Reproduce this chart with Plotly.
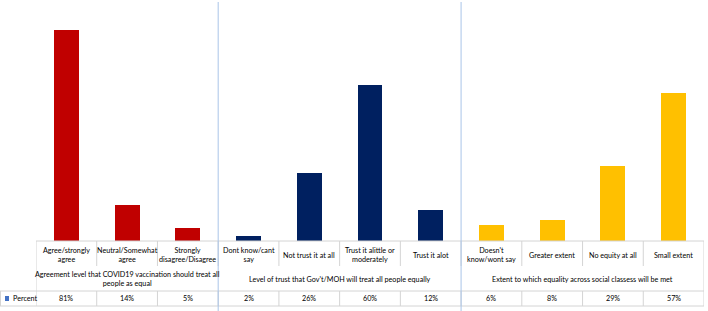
import plotly.graph_objects as go

categories = ["Agree/strongly<br>agree", "Neutral/Somewhat<br>agree", "Strongly<br>disagree/Disagree",
              "Dont know/cant<br>say", "Not trust it at all", "Trust it alittle or<br>moderately", "Trust it alot",
              "Doesn't<br>know/wont say", "Greater extent", "No equity at all", "Small extent"]
values = [81, 14, 5, 2, 26, 60, 12, 6, 8, 29, 57]
group_labels = ["Agreement level that COVID19 vaccination should treat all<br>people as equal",
                "Level of trust that Gov't/MOH will treat all people equally",
                "Extent to which equality across social classess will be met"]
group_sizes = [3, 4, 4]
group_colors = ["#C00000", "#002060", "#FFC000"]
series_name = "Percent"

W, H = 708, 311
ml, mr, mt, mb = 36, 4, 7, 70
ph = H - mt - mb
pw = W - ml - mr

def py(px_y):
    return (H - mb - px_y) / ph

def px(px_x):
    return (px_x - ml) / pw

colors = []
for c, n in zip(group_colors, group_sizes):
    colors += [c] * n
xs = list(range(len(values)))

fig = go.Figure()
fig.add_trace(go.Bar(x=xs, y=values, marker=dict(color=colors, line=dict(width=0)),
                     width=0.41, name=series_name, showlegend=False))

font = dict(family="Lato", size=7.2, color="#000000")
grid = "#d4d4d4"
sep = "#a9c4e8"
shapes = []
ann = []

n = len(values)
# top line of table
shapes.append(dict(type="line", xref="x", yref="paper", x0=-0.5, x1=n - 0.5, y0=0, y1=0,
                   line=dict(color=grid, width=1)))
# line under group labels and bottom line
for yy in (291, 306):
    shapes.append(dict(type="line", xref="paper", yref="paper", x0=px(0), x1=1, y0=py(yy), y1=py(yy),
                       line=dict(color=grid, width=1)))
# vertical lines: category row and percent row
for i in range(n + 1):
    shapes.append(dict(type="line", xref="x", yref="paper", x0=i - 0.5, x1=i - 0.5, y0=0, y1=py(266),
                       line=dict(color=grid, width=1)))
    shapes.append(dict(type="line", xref="x", yref="paper", x0=i - 0.5, x1=i - 0.5, y0=py(291), y1=py(306),
                       line=dict(color=grid, width=1)))
# outer left/right edges of group row
for xe in (-0.5, n - 0.5):
    shapes.append(dict(type="line", xref="x", yref="paper", x0=xe, x1=xe, y0=py(266), y1=py(291),
                       line=dict(color=grid, width=1)))
shapes.append(dict(type="line", xref="paper", yref="paper", x0=px(0.5), x1=px(0.5), y0=py(291), y1=py(306),
                   line=dict(color=grid, width=1)))
# group separators and group labels
start = 0
for k, size in enumerate(group_sizes):
    center = start + (size - 1) / 2
    ann.append(dict(x=center, y=py(279), xref="x", yref="paper", text=group_labels[k], showarrow=False,
                    font=font, yanchor="middle", xanchor="center"))
    start += size
    if k < len(group_sizes) - 1:
        shapes.append(dict(type="line", xref="x", yref="paper", x0=start - 0.5, x1=start - 0.5,
                           y0=py(2), y1=py(311), line=dict(color=sep, width=1)))

for i, (c, v) in enumerate(zip(categories, values)):
    ann.append(dict(x=i, y=py(255), xref="x", yref="paper", text=c, showarrow=False, font=font,
                    yanchor="middle", xanchor="center"))
    ann.append(dict(x=i, y=py(298.5), xref="x", yref="paper", text=f"{v}%", showarrow=False, font=font,
                    yanchor="middle", xanchor="center"))

# legend key
shapes.append(dict(type="rect", xref="paper", yref="paper", x0=px(5), x1=px(9), y0=py(301), y1=py(296),
                   fillcolor="#4472C4", line=dict(width=0)))
ann.append(dict(x=px(11), y=py(298.5), xref="paper", yref="paper", text=series_name, showarrow=False,
                font=font, yanchor="middle", xanchor="left"))

fig.update_layout(
    width=W, height=H, margin=dict(l=ml, r=mr, t=mt, b=mb),
    paper_bgcolor="white", plot_bgcolor="white",
    xaxis=dict(range=[-0.5, n - 0.5], visible=False, fixedrange=True),
    yaxis=dict(range=[0, 90], visible=False, fixedrange=True),
    shapes=shapes, annotations=ann, showlegend=False, bargap=0,
)
fig.write_html("out.html")
